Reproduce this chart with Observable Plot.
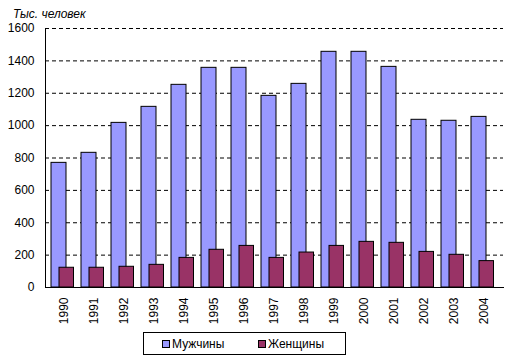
<!DOCTYPE html>
<html>
<head>
<meta charset="utf-8">
<script src="https://cdn.jsdelivr.net/npm/d3@7"></script>
<script src="https://cdn.jsdelivr.net/npm/@observablehq/plot@0.6"></script>
<style>
  html, body { margin: 0; padding: 0; background: #fff; }
  body { width: 509px; height: 364px; position: relative; overflow: hidden; font-family: "Liberation Sans", Arial, sans-serif; }
  #title { position: absolute; left: 13px; top: 7px; font-size: 12px; font-style: italic; color: #000; }
  #chart { position: absolute; left: 0; top: 0; }
  #legend { position: absolute; left: 143px; top: 332px; width: 201px; height: 21px; border: 1px solid #000; font-size: 12px; color: #000; }
  .item { position: absolute; top: 3px; display: flex; align-items: center; height: 16px; }
  .sw { width: 6px; height: 6px; border: 1px solid #000; margin-right: 2px; }
</style>
</head>
<body>
<div id="chart"></div>
<div id="title">Тыс. человек</div>
<div id="legend"></div>
<script>
const years = ["1990","1991","1992","1993","1994","1995","1996","1997","1998","1999","2000","2001","2002","2003","2004"];
const men   = [770, 832, 1017, 1116, 1252, 1357, 1357, 1184, 1258, 1456, 1456, 1363, 1036, 1030, 1054];
const women = [122, 122, 128, 140, 183, 233, 257, 183, 216, 257, 282, 276, 220, 202, 163];
const seriesNames = ["Мужчины", "Женщины"];
const seriesColors = ["#9999FF", "#993366"];
const yTicks = [0, 200, 400, 600, 800, 1000, 1200, 1400, 1600];

const menData = years.map((y, i) => ({year: y, value: men[i]}));
const womenData = years.map((y, i) => ({year: y, value: women[i]}));

const chart = Plot.plot({
  width: 509,
  height: 330,
  marginLeft: 45,
  marginRight: 6,
  marginTop: 28,
  marginBottom: 43,
  style: {fontFamily: "'Liberation Sans', Arial, sans-serif", fontSize: "12px", color: "#000", background: "#fff"},
  x: {domain: years, padding: 0, label: null},
  y: {domain: [0, 1600], label: null},
  marks: [
    Plot.gridY(yTicks.filter(d => d > 0), {stroke: "#000", strokeOpacity: 1, strokeDasharray: "4,3"}),
    Plot.barY(menData, {x: "year", y: "value", fill: seriesColors[0], stroke: "#000", strokeWidth: 1, insetLeft: 2, insetRight: 13}),
    Plot.barY(womenData, {x: "year", y: "value", fill: seriesColors[1], stroke: "#000", strokeWidth: 1, insetLeft: 10, insetRight: 5.5}),
    Plot.axisY({ticks: yTicks, tickFormat: d => String(d), tickSize: 0, tickPadding: 11, fontSize: 12, fill: "#000", label: null}),
    Plot.axisX({tickSize: 0, tickPadding: 10, tickRotate: -90, fontSize: 12, fill: "#000", label: null}),
    Plot.frame({anchor: "left", stroke: "#000"}),
    Plot.frame({anchor: "bottom", stroke: "#000"})
  ]
});
document.getElementById("chart").appendChild(chart);

const legend = document.getElementById("legend");
const lefts = [18, 114];
seriesNames.forEach((name, i) => {
  const it = document.createElement("div");
  it.className = "item";
  it.style.left = lefts[i] + "px";
  const sw = document.createElement("div");
  sw.className = "sw";
  sw.style.background = seriesColors[i];
  const tx = document.createElement("span");
  tx.textContent = name;
  it.appendChild(sw);
  it.appendChild(tx);
  legend.appendChild(it);
});
</script>
</body>
</html>
